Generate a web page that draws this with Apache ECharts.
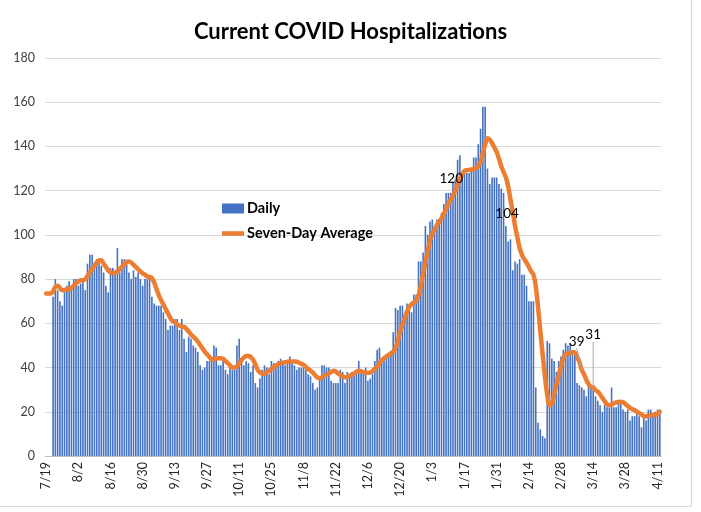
<!DOCTYPE html>
<html>
<head>
<meta charset="utf-8">
<script src="https://cdn.jsdelivr.net/npm/echarts@6/dist/echarts.min.js"></script>
<style>html,body{margin:0;padding:0;background:#fff;}#c{width:701px;height:512px;}</style>
</head>
<body>
<div id="c"></div>
<script>
// Dates: 7/19 through 4/12 (one entry per day)
const startDate = [2020, 6, 19];
const dayCount = 268;
const categories = [];
for (let i = 0; i < dayCount; i++) {
  const d = new Date(startDate[0], startDate[1], startDate[2] + i);
  categories.push((d.getMonth() + 1) + '/' + d.getDate());
}

const daily = [
  null, null, null, 72, 80, 75, 70, 68, 74, 77,
  79, 77, 80, 80, 77, 78, 80, 75, 87, 91,
  91, 86, 89, 89, 86, 83, 77, 74, 85, 85,
  83, 94, 83, 89, 89, 87, 83, 80, 84, 81,
  83, 80, 77, 80, 80, 81, 72, 69, 68, 68,
  68, 65, 62, 57, 59, 59, 62, 62, 57, 62,
  53, 47, 54, 53, 50, 49, 47, 41, 39, 40,
  43, 43, 43, 50, 49, 41, 41, 43, 39, 37,
  40, 39, 39, 50, 53, 43, 41, 43, 42, 38,
  41, 33, 31, 35, 39, 41, 40, 37, 43, 42,
  41, 43, 44, 42, 41, 42, 45, 43, 41, 39,
  40, 40, 40, 39, 37, 36, 33, 30, 31, 36,
  41, 41, 40, 40, 34, 33, 33, 33, 39, 38,
  33, 38, 37, 38, 38, 39, 43, 38, 38, 40,
  34, 35, 37, 43, 48, 49, 43, 43, 46, 46,
  47, 56, 67, 66, 68, 68, 64, 69, 66, 65,
  73, 73, 88, 88, 92, 104, 100, 106, 107, 101,
  107, 106, 110, 114, 119, 119, 119, 124, 125, 134,
  136, 128, 128, 128, 128, 129, 135, 135, 141, 148,
  158, 158, 130, 123, 126, 126, 126, 123, 121, 119,
  104, 97, 98, 84, 88, 87, 89, 82, 82, 77,
  70, 70, 70, 31, 15, 12, 9, 8, 52, 51,
  44, 43, 38, 43, 45, 48, 51, 50, 51, 46,
  47, 33, 32, 31, 30, 27, 32, 31, 30, 27,
  25, 23, 20, 23, 22, 22, 31, 22, 22, 24,
  24, 21, 20, 21, 16, 18, 18, 19, 18, 13,
  18, 16, 21, 21, 19, 20, 21, 21
];

const sevenDayAvg = [
  73.5, 73.5, 73.5, 74.5, 76.5, 77, 76, 75, 75, 75.5,
  75.5, 76, 77, 78, 79, 79.5, 79.5, 80, 81.5, 83,
  84.5, 86, 87.5, 88.5, 88.5, 87, 85.5, 84, 83, 82.6,
  83, 83.5, 84.5, 85.6, 86.5, 87.8, 88, 87.5, 86.5, 85.5,
  84.5, 83.5, 82.6, 82, 81.2, 81, 80.5, 78.5, 75.5, 72.8,
  70.5, 68.5, 66.5, 64.5, 62.5, 61, 60.5, 59.5, 59, 58.5,
  58.5, 57.5, 56.3, 55, 54, 53, 51.7, 50.2, 48.7, 47.2,
  46, 44.8, 43.7, 43.7, 44.2, 44.2, 44.2, 44, 43, 42,
  41, 40, 40, 40.5, 42, 43.4, 44.5, 45.2, 45.2, 44.8,
  43.5, 41.5, 39, 37.8, 37.2, 37.2, 37.8, 38.5, 39.3, 40.2,
  41, 41.5, 42, 42.2, 42.4, 42.6, 42.7, 42.7, 42.7, 42.6,
  42.2, 41.7, 41.2, 40.3, 39.3, 38.6, 37.8, 36.5, 35.6, 35.1,
  35.5, 36.2, 36.9, 37.4, 38, 38.5, 38.2, 37.3, 36.7, 36,
  35.6, 35.8, 36.3, 36.7, 37.3, 38, 38.6, 38.4, 37.9, 37.7,
  37.7, 37.7, 38.4, 39.5, 40.4, 41.8, 43.4, 44.2, 45, 45.7,
  46.4, 47.2, 49, 52, 56, 59.3, 62.5, 65.3, 67.5, 68.7,
  69.4, 70.1, 72.5, 77, 82.5, 87.5, 92.5, 97.5, 100.3, 102.5,
  104.5, 106, 107.5, 109.5, 111.5, 114, 116, 118, 120, 122.5,
  125.2, 127.2, 129, 129.3, 129.4, 129.6, 129.8, 130.2, 131, 133,
  137, 141, 143.7, 143, 141.5, 139.5, 137.5, 134.5, 131, 128.5,
  126, 122, 116, 110.5, 104, 99, 94, 91, 89, 87.5,
  85.5, 83.5, 82, 77, 67.5, 56.5, 46, 36, 27.5, 23,
  23.5, 27.5, 32.5, 36.5, 40.5, 44.5, 46, 46.3, 46.5, 47,
  46.8, 45, 42.5, 39, 37, 34.5, 32.5, 31.2, 31, 29.8,
  29.1, 27.8, 26.3, 24.8, 23.3, 23.1, 23.2, 23.8, 24.2, 24.4,
  24.5, 24.4, 23.5, 22.6, 21.8, 21.2, 20.8, 20.1, 19.4, 18.8,
  18, 17.9, 18.4, 18.5, 18.5, 18.5, 19, 20
];

// Indices of the labelled average points
const labelledPoints = [178, 204, 233, 238];
const leaderPoints = [233, 238];
const labelShift = { 178: [-4, 0], 204: [-8, 0], 233: [-5, -16], 238: [0, -40] };

const FONT = 'Lato, "Open Sans", sans-serif';

const avgData = sevenDayAvg.map((v, i) => {
  if (labelledPoints.indexOf(i) >= 0) {
    return {
      value: v,
      symbol: 'circle',
      symbolSize: 1,
      itemStyle: { color: 'rgba(0,0,0,0)', borderWidth: 0 },
      label: { show: true, opacity: 1 },
      labelLine: { show: leaderPoints.indexOf(i) >= 0 }
    };
  }
  return v;
});

const chart = echarts.init(document.getElementById('c'), null, { renderer: 'canvas' });
chart.setOption({
  animation: false,
  backgroundColor: '#ffffff',
  title: {
    text: 'Current COVID Hospitalizations',
    left: 'center',
    top: 16,
    textStyle: { fontFamily: FONT, fontSize: 22, fontWeight: 'bold', color: '#000000' }
  },
  legend: {
    orient: 'vertical',
    left: 222,
    top: 201,
    padding: 0,
    itemWidth: 22,
    itemHeight: 10,
    itemGap: 10,
    textStyle: { fontFamily: FONT, fontSize: 14.5, fontWeight: 'bold', color: '#000000', padding: [0, 0, 0, -2] },
    data: [
      { name: 'Daily', icon: 'rect' },
      { name: 'Seven-Day Average', icon: 'path://M0,0 L24,0 L24,5 L0,5 Z' }
    ]
  },
  grid: { left: 45, right: 40, top: 58, bottom: 56, containLabel: false },
  xAxis: {
    type: 'category',
    data: categories,
    boundaryGap: true,
    axisLine: { lineStyle: { color: '#bfbfbf', width: 1 } },
    axisTick: { interval: 13, alignWithLabel: true, length: 5, lineStyle: { color: '#bfbfbf' } },
    axisLabel: {
      interval: 13,
      rotate: 90,
      fontFamily: FONT,
      fontSize: 12.5,
      color: '#262626',
      margin: 6
    }
  },
  yAxis: {
    type: 'value',
    min: 0,
    max: 180,
    interval: 20,
    axisLine: { show: false },
    axisTick: { show: false },
    splitLine: { lineStyle: { color: '#d9d9d9', width: 1 } },
    axisLabel: { fontFamily: FONT, fontSize: 12.5, color: '#404040', margin: 10 }
  },
  series: [
    {
      name: 'Daily',
      type: 'bar',
      data: daily,
      barCategoryGap: '30%',
      itemStyle: { color: '#4472C4' }
    },
    {
      name: 'Seven-Day Average',
      type: 'line',
      data: avgData,
      symbol: 'none',
      showAllSymbol: true,
      smooth: 0.3,
      lineStyle: { color: '#ED7D31', width: 4.5, cap: 'round', join: 'round' },
      itemStyle: { color: '#ED7D31' },
      label: {
        show: false,
        position: 'top',
        distance: 5,
        fontFamily: FONT,
        fontSize: 13.5,
        color: '#000000',
        formatter: p => String(Math.round(p.value))
      },
      labelLine: { show: false, lineStyle: { color: '#a6a6a6', width: 1 } },
      labelLayout: function (params) {
        const s = labelShift[params.dataIndex];
        if (!s) return {};
        return { dx: s[0], dy: s[1] };
      },
      z: 3
    }
  ],
  graphic: [
    {
      type: 'rect',
      silent: true,
      shape: { x: -1, y: -1, width: 692.5, height: 507.5 },
      style: { fill: 'none', stroke: '#d9d9d9', lineWidth: 1 }
    }
  ]
});
</script>
</body>
</html>
